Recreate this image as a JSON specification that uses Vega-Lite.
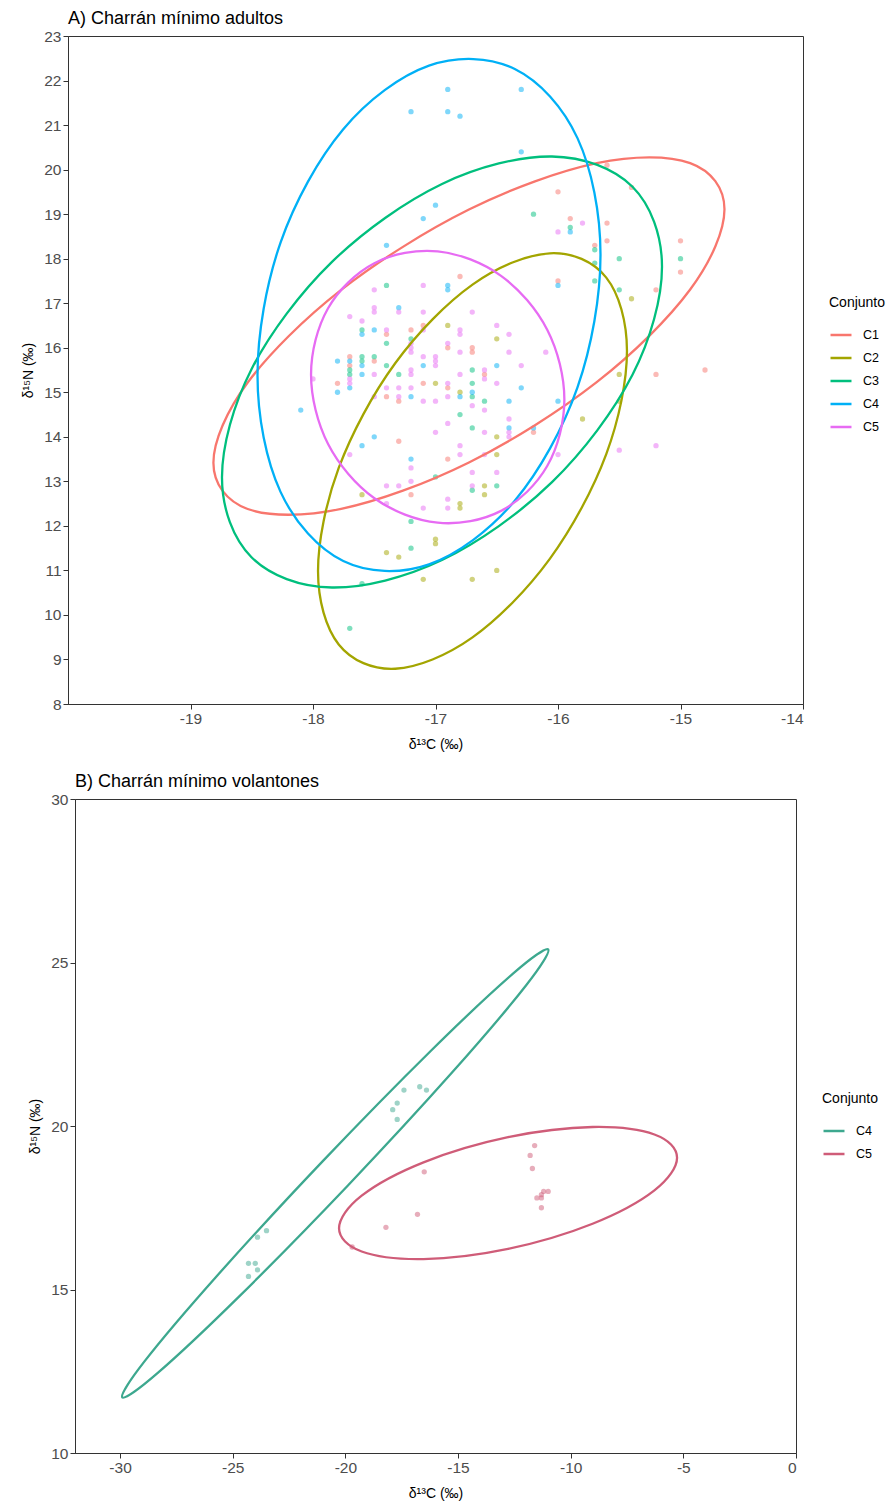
{
  "$schema": "https://vega.github.io/schema/vega-lite/v6.json",
  "padding": {"left": 21, "top": 9, "right": 5, "bottom": 5},
  "spacing": 95,
  "bounds": "flush",
  "center": true,
  "config": {
    "font": "Liberation Sans",
    "view": {"stroke": "#333333", "strokeWidth": 1},
    "axis": {"grid": false, "domainColor": "#333333", "domainWidth": 1, "tickColor": "#333333", "tickSize": 5, "labelFontSize": 15.5, "labelColor": "#4d4d4d", "labelFont": "Liberation Sans", "titleFont": "Liberation Sans", "titleFontSize": 14, "titleFontWeight": "normal", "titleColor": "#000000", "labelPadding": 2},
    "axisX": {"titlePadding": 11},
    "axisY": {"titlePadding": 8},
    "legend": {"titleFont": "Liberation Sans", "labelFont": "Liberation Sans", "titleFontSize": 14, "titleFontWeight": "normal", "titleColor": "#000000", "labelFontSize": 12.5, "labelColor": "#000000", "symbolType": "stroke", "symbolStrokeWidth": 2.5, "symbolSize": 440, "rowPadding": 4, "titlePadding": 13, "labelOffset": 10, "padding": 0, "symbolOpacity": 1},
    "title": {"fontSize": 18, "fontWeight": "normal", "color": "#000000", "anchor": "start", "frame": "group", "offset": 1, "font": "Liberation Sans"}
  },
  "datasets": {
    "ptsA": [
      {"Conjunto": "C1", "d13C": -16.8, "d15N": 17.6},
      {"Conjunto": "C1", "d13C": -17.2, "d15N": 16.4},
      {"Conjunto": "C1", "d13C": -17.4, "d15N": 16.3},
      {"Conjunto": "C1", "d13C": -17.1, "d15N": 16.5},
      {"Conjunto": "C1", "d13C": -17.5, "d15N": 15.7},
      {"Conjunto": "C1", "d13C": -17.7, "d15N": 15.8},
      {"Conjunto": "C1", "d13C": -17.7, "d15N": 15.6},
      {"Conjunto": "C1", "d13C": -16.9, "d15N": 16.0},
      {"Conjunto": "C1", "d13C": -16.7, "d15N": 16.0},
      {"Conjunto": "C1", "d13C": -16.6, "d15N": 15.4},
      {"Conjunto": "C1", "d13C": -16.7, "d15N": 15.9},
      {"Conjunto": "C1", "d13C": -17.8, "d15N": 15.2},
      {"Conjunto": "C1", "d13C": -17.1, "d15N": 15.2},
      {"Conjunto": "C1", "d13C": -16.9, "d15N": 15.1},
      {"Conjunto": "C1", "d13C": -17.4, "d15N": 14.9},
      {"Conjunto": "C1", "d13C": -17.3, "d15N": 14.8},
      {"Conjunto": "C1", "d13C": -17.3, "d15N": 13.9},
      {"Conjunto": "C1", "d13C": -16.9, "d15N": 13.5},
      {"Conjunto": "C1", "d13C": -17.2, "d15N": 12.7},
      {"Conjunto": "C1", "d13C": -15.6, "d15N": 20.1},
      {"Conjunto": "C1", "d13C": -15.4, "d15N": 19.6},
      {"Conjunto": "C1", "d13C": -16.0, "d15N": 19.5},
      {"Conjunto": "C1", "d13C": -15.9, "d15N": 18.9},
      {"Conjunto": "C1", "d13C": -15.6, "d15N": 18.8},
      {"Conjunto": "C1", "d13C": -15.6, "d15N": 18.4},
      {"Conjunto": "C1", "d13C": -15.7, "d15N": 18.3},
      {"Conjunto": "C1", "d13C": -15.0, "d15N": 18.4},
      {"Conjunto": "C1", "d13C": -15.0, "d15N": 17.7},
      {"Conjunto": "C1", "d13C": -16.0, "d15N": 17.5},
      {"Conjunto": "C1", "d13C": -15.2, "d15N": 17.3},
      {"Conjunto": "C1", "d13C": -15.2, "d15N": 15.4},
      {"Conjunto": "C1", "d13C": -14.8, "d15N": 15.5},
      {"Conjunto": "C1", "d13C": -16.2, "d15N": 14.1},
      {"Conjunto": "C2", "d13C": -16.9, "d15N": 16.5},
      {"Conjunto": "C2", "d13C": -16.5, "d15N": 16.2},
      {"Conjunto": "C2", "d13C": -17.0, "d15N": 15.2},
      {"Conjunto": "C2", "d13C": -16.8, "d15N": 15.0},
      {"Conjunto": "C2", "d13C": -16.5, "d15N": 14.0},
      {"Conjunto": "C2", "d13C": -16.5, "d15N": 13.6},
      {"Conjunto": "C2", "d13C": -16.6, "d15N": 12.9},
      {"Conjunto": "C2", "d13C": -17.6, "d15N": 12.7},
      {"Conjunto": "C2", "d13C": -16.6, "d15N": 12.7},
      {"Conjunto": "C2", "d13C": -16.8, "d15N": 12.5},
      {"Conjunto": "C2", "d13C": -16.8, "d15N": 12.4},
      {"Conjunto": "C2", "d13C": -17.0, "d15N": 11.7},
      {"Conjunto": "C2", "d13C": -17.0, "d15N": 11.6},
      {"Conjunto": "C2", "d13C": -17.4, "d15N": 11.4},
      {"Conjunto": "C2", "d13C": -17.3, "d15N": 11.3},
      {"Conjunto": "C2", "d13C": -16.5, "d15N": 11.0},
      {"Conjunto": "C2", "d13C": -17.1, "d15N": 10.8},
      {"Conjunto": "C2", "d13C": -16.7, "d15N": 10.8},
      {"Conjunto": "C2", "d13C": -15.4, "d15N": 17.1},
      {"Conjunto": "C2", "d13C": -15.5, "d15N": 15.4},
      {"Conjunto": "C2", "d13C": -15.5, "d15N": 14.8},
      {"Conjunto": "C2", "d13C": -15.8, "d15N": 14.4},
      {"Conjunto": "C3", "d13C": -17.4, "d15N": 17.4},
      {"Conjunto": "C3", "d13C": -17.6, "d15N": 16.4},
      {"Conjunto": "C3", "d13C": -17.4, "d15N": 16.1},
      {"Conjunto": "C3", "d13C": -17.2, "d15N": 16.2},
      {"Conjunto": "C3", "d13C": -17.7, "d15N": 15.5},
      {"Conjunto": "C3", "d13C": -17.7, "d15N": 15.4},
      {"Conjunto": "C3", "d13C": -17.6, "d15N": 15.8},
      {"Conjunto": "C3", "d13C": -17.6, "d15N": 15.7},
      {"Conjunto": "C3", "d13C": -17.5, "d15N": 15.8},
      {"Conjunto": "C3", "d13C": -17.4, "d15N": 15.6},
      {"Conjunto": "C3", "d13C": -16.7, "d15N": 15.5},
      {"Conjunto": "C3", "d13C": -17.3, "d15N": 15.4},
      {"Conjunto": "C3", "d13C": -16.7, "d15N": 15.2},
      {"Conjunto": "C3", "d13C": -16.7, "d15N": 14.9},
      {"Conjunto": "C3", "d13C": -16.6, "d15N": 14.8},
      {"Conjunto": "C3", "d13C": -16.8, "d15N": 14.5},
      {"Conjunto": "C3", "d13C": -16.7, "d15N": 14.2},
      {"Conjunto": "C3", "d13C": -17.0, "d15N": 13.1},
      {"Conjunto": "C3", "d13C": -16.5, "d15N": 12.9},
      {"Conjunto": "C3", "d13C": -16.7, "d15N": 12.8},
      {"Conjunto": "C3", "d13C": -17.2, "d15N": 12.1},
      {"Conjunto": "C3", "d13C": -17.2, "d15N": 11.5},
      {"Conjunto": "C3", "d13C": -17.6, "d15N": 10.7},
      {"Conjunto": "C3", "d13C": -17.7, "d15N": 9.7},
      {"Conjunto": "C3", "d13C": -16.2, "d15N": 19.0},
      {"Conjunto": "C3", "d13C": -15.9, "d15N": 18.7},
      {"Conjunto": "C3", "d13C": -15.7, "d15N": 18.2},
      {"Conjunto": "C3", "d13C": -15.5, "d15N": 18.0},
      {"Conjunto": "C3", "d13C": -15.0, "d15N": 18.0},
      {"Conjunto": "C3", "d13C": -15.7, "d15N": 17.9},
      {"Conjunto": "C3", "d13C": -15.7, "d15N": 17.5},
      {"Conjunto": "C3", "d13C": -15.5, "d15N": 17.3},
      {"Conjunto": "C4", "d13C": -16.9, "d15N": 21.8},
      {"Conjunto": "C4", "d13C": -17.2, "d15N": 21.3},
      {"Conjunto": "C4", "d13C": -16.9, "d15N": 21.3},
      {"Conjunto": "C4", "d13C": -16.8, "d15N": 21.2},
      {"Conjunto": "C4", "d13C": -17.0, "d15N": 19.2},
      {"Conjunto": "C4", "d13C": -17.1, "d15N": 18.9},
      {"Conjunto": "C4", "d13C": -17.4, "d15N": 18.3},
      {"Conjunto": "C4", "d13C": -16.9, "d15N": 17.4},
      {"Conjunto": "C4", "d13C": -16.9, "d15N": 17.3},
      {"Conjunto": "C4", "d13C": -17.3, "d15N": 16.9},
      {"Conjunto": "C4", "d13C": -17.5, "d15N": 16.4},
      {"Conjunto": "C4", "d13C": -17.6, "d15N": 16.3},
      {"Conjunto": "C4", "d13C": -17.8, "d15N": 15.7},
      {"Conjunto": "C4", "d13C": -17.7, "d15N": 15.7},
      {"Conjunto": "C4", "d13C": -17.6, "d15N": 15.6},
      {"Conjunto": "C4", "d13C": -17.1, "d15N": 15.6},
      {"Conjunto": "C4", "d13C": -16.5, "d15N": 15.6},
      {"Conjunto": "C4", "d13C": -17.6, "d15N": 15.4},
      {"Conjunto": "C4", "d13C": -17.8, "d15N": 15.0},
      {"Conjunto": "C4", "d13C": -17.7, "d15N": 15.1},
      {"Conjunto": "C4", "d13C": -16.7, "d15N": 15.0},
      {"Conjunto": "C4", "d13C": -17.2, "d15N": 14.9},
      {"Conjunto": "C4", "d13C": -16.8, "d15N": 14.9},
      {"Conjunto": "C4", "d13C": -18.1, "d15N": 14.6},
      {"Conjunto": "C4", "d13C": -17.5, "d15N": 14.0},
      {"Conjunto": "C4", "d13C": -17.6, "d15N": 13.8},
      {"Conjunto": "C4", "d13C": -17.2, "d15N": 13.5},
      {"Conjunto": "C4", "d13C": -16.3, "d15N": 21.8},
      {"Conjunto": "C4", "d13C": -16.3, "d15N": 20.4},
      {"Conjunto": "C4", "d13C": -15.9, "d15N": 18.6},
      {"Conjunto": "C4", "d13C": -16.0, "d15N": 17.4},
      {"Conjunto": "C4", "d13C": -16.3, "d15N": 15.1},
      {"Conjunto": "C4", "d13C": -16.4, "d15N": 14.8},
      {"Conjunto": "C4", "d13C": -16.0, "d15N": 14.8},
      {"Conjunto": "C4", "d13C": -16.4, "d15N": 14.2},
      {"Conjunto": "C4", "d13C": -16.2, "d15N": 14.2},
      {"Conjunto": "C5", "d13C": -17.5, "d15N": 17.3},
      {"Conjunto": "C5", "d13C": -17.1, "d15N": 17.4},
      {"Conjunto": "C5", "d13C": -17.5, "d15N": 16.9},
      {"Conjunto": "C5", "d13C": -17.5, "d15N": 16.8},
      {"Conjunto": "C5", "d13C": -17.7, "d15N": 16.7},
      {"Conjunto": "C5", "d13C": -17.6, "d15N": 16.6},
      {"Conjunto": "C5", "d13C": -17.3, "d15N": 16.8},
      {"Conjunto": "C5", "d13C": -17.1, "d15N": 16.8},
      {"Conjunto": "C5", "d13C": -16.7, "d15N": 16.8},
      {"Conjunto": "C5", "d13C": -17.4, "d15N": 16.4},
      {"Conjunto": "C5", "d13C": -17.1, "d15N": 16.4},
      {"Conjunto": "C5", "d13C": -16.8, "d15N": 16.4},
      {"Conjunto": "C5", "d13C": -16.8, "d15N": 16.3},
      {"Conjunto": "C5", "d13C": -16.5, "d15N": 16.5},
      {"Conjunto": "C5", "d13C": -17.2, "d15N": 16.1},
      {"Conjunto": "C5", "d13C": -17.2, "d15N": 16.0},
      {"Conjunto": "C5", "d13C": -17.2, "d15N": 15.9},
      {"Conjunto": "C5", "d13C": -16.9, "d15N": 16.1},
      {"Conjunto": "C5", "d13C": -16.8, "d15N": 15.9},
      {"Conjunto": "C5", "d13C": -17.1, "d15N": 15.8},
      {"Conjunto": "C5", "d13C": -17.0, "d15N": 15.8},
      {"Conjunto": "C5", "d13C": -17.0, "d15N": 15.7},
      {"Conjunto": "C5", "d13C": -17.0, "d15N": 15.6},
      {"Conjunto": "C5", "d13C": -17.5, "d15N": 15.4},
      {"Conjunto": "C5", "d13C": -17.2, "d15N": 15.5},
      {"Conjunto": "C5", "d13C": -17.2, "d15N": 15.4},
      {"Conjunto": "C5", "d13C": -16.8, "d15N": 15.4},
      {"Conjunto": "C5", "d13C": -16.6, "d15N": 15.5},
      {"Conjunto": "C5", "d13C": -17.7, "d15N": 15.3},
      {"Conjunto": "C5", "d13C": -17.7, "d15N": 15.2},
      {"Conjunto": "C5", "d13C": -16.9, "d15N": 15.2},
      {"Conjunto": "C5", "d13C": -16.5, "d15N": 15.2},
      {"Conjunto": "C5", "d13C": -17.4, "d15N": 15.1},
      {"Conjunto": "C5", "d13C": -17.3, "d15N": 15.1},
      {"Conjunto": "C5", "d13C": -17.2, "d15N": 15.1},
      {"Conjunto": "C5", "d13C": -16.6, "d15N": 15.3},
      {"Conjunto": "C5", "d13C": -17.5, "d15N": 14.9},
      {"Conjunto": "C5", "d13C": -17.3, "d15N": 14.9},
      {"Conjunto": "C5", "d13C": -16.9, "d15N": 14.9},
      {"Conjunto": "C5", "d13C": -17.1, "d15N": 14.8},
      {"Conjunto": "C5", "d13C": -17.0, "d15N": 14.8},
      {"Conjunto": "C5", "d13C": -16.7, "d15N": 14.7},
      {"Conjunto": "C5", "d13C": -16.6, "d15N": 14.6},
      {"Conjunto": "C5", "d13C": -16.9, "d15N": 14.3},
      {"Conjunto": "C5", "d13C": -17.0, "d15N": 14.1},
      {"Conjunto": "C5", "d13C": -16.6, "d15N": 14.1},
      {"Conjunto": "C5", "d13C": -16.8, "d15N": 13.8},
      {"Conjunto": "C5", "d13C": -17.7, "d15N": 13.6},
      {"Conjunto": "C5", "d13C": -16.8, "d15N": 13.6},
      {"Conjunto": "C5", "d13C": -16.6, "d15N": 13.6},
      {"Conjunto": "C5", "d13C": -17.2, "d15N": 13.3},
      {"Conjunto": "C5", "d13C": -16.7, "d15N": 13.2},
      {"Conjunto": "C5", "d13C": -16.5, "d15N": 13.2},
      {"Conjunto": "C5", "d13C": -17.2, "d15N": 13.0},
      {"Conjunto": "C5", "d13C": -17.4, "d15N": 12.9},
      {"Conjunto": "C5", "d13C": -17.3, "d15N": 12.9},
      {"Conjunto": "C5", "d13C": -16.7, "d15N": 12.9},
      {"Conjunto": "C5", "d13C": -17.4, "d15N": 12.5},
      {"Conjunto": "C5", "d13C": -17.1, "d15N": 12.4},
      {"Conjunto": "C5", "d13C": -16.9, "d15N": 12.6},
      {"Conjunto": "C5", "d13C": -16.9, "d15N": 12.4},
      {"Conjunto": "C5", "d13C": -15.8, "d15N": 18.8},
      {"Conjunto": "C5", "d13C": -16.0, "d15N": 18.6},
      {"Conjunto": "C5", "d13C": -16.4, "d15N": 16.3},
      {"Conjunto": "C5", "d13C": -16.4, "d15N": 15.9},
      {"Conjunto": "C5", "d13C": -16.1, "d15N": 15.9},
      {"Conjunto": "C5", "d13C": -16.3, "d15N": 15.6},
      {"Conjunto": "C5", "d13C": -16.4, "d15N": 14.4},
      {"Conjunto": "C5", "d13C": -16.4, "d15N": 14.1},
      {"Conjunto": "C5", "d13C": -16.4, "d15N": 14.0},
      {"Conjunto": "C5", "d13C": -16.0, "d15N": 13.6},
      {"Conjunto": "C5", "d13C": -15.5, "d15N": 13.7},
      {"Conjunto": "C5", "d13C": -15.2, "d15N": 13.8},
      {"Conjunto": "C5", "d13C": -18.0, "d15N": 15.3}
    ],
    "ellA": [
      {"Conjunto": "C1", "i": 0, "d13C": -14.641, "d15N": 19.108},
      {"Conjunto": "C1", "i": 1, "d13C": -14.921, "d15N": 17.307},
      {"Conjunto": "C1", "i": 2, "d13C": -15.684, "d15N": 15.227},
      {"Conjunto": "C1", "i": 3, "d13C": -16.727, "d15N": 13.424},
      {"Conjunto": "C1", "i": 4, "d13C": -17.77, "d15N": 12.381},
      {"Conjunto": "C1", "i": 5, "d13C": -18.533, "d15N": 12.379},
      {"Conjunto": "C1", "i": 6, "d13C": -18.813, "d15N": 13.418},
      {"Conjunto": "C1", "i": 7, "d13C": -18.533, "d15N": 15.219},
      {"Conjunto": "C1", "i": 8, "d13C": -17.77, "d15N": 17.299},
      {"Conjunto": "C1", "i": 9, "d13C": -16.727, "d15N": 19.102},
      {"Conjunto": "C1", "i": 10, "d13C": -15.684, "d15N": 20.145},
      {"Conjunto": "C1", "i": 11, "d13C": -14.921, "d15N": 20.147},
      {"Conjunto": "C2", "i": 0, "d13C": -15.437, "d15N": 15.924},
      {"Conjunto": "C2", "i": 1, "d13C": -15.606, "d15N": 13.612},
      {"Conjunto": "C2", "i": 2, "d13C": -16.067, "d15N": 11.26},
      {"Conjunto": "C2", "i": 3, "d13C": -16.698, "d15N": 9.495},
      {"Conjunto": "C2", "i": 4, "d13C": -17.329, "d15N": 8.792},
      {"Conjunto": "C2", "i": 5, "d13C": -17.79, "d15N": 9.338},
      {"Conjunto": "C2", "i": 6, "d13C": -17.959, "d15N": 10.988},
      {"Conjunto": "C2", "i": 7, "d13C": -17.79, "d15N": 13.3},
      {"Conjunto": "C2", "i": 8, "d13C": -17.329, "d15N": 15.652},
      {"Conjunto": "C2", "i": 9, "d13C": -16.698, "d15N": 17.417},
      {"Conjunto": "C2", "i": 10, "d13C": -16.067, "d15N": 18.12},
      {"Conjunto": "C2", "i": 11, "d13C": -15.606, "d15N": 17.574},
      {"Conjunto": "C3", "i": 0, "d13C": -15.151, "d15N": 17.82},
      {"Conjunto": "C3", "i": 1, "d13C": -15.392, "d15N": 15.392},
      {"Conjunto": "C3", "i": 2, "d13C": -16.049, "d15N": 12.982},
      {"Conjunto": "C3", "i": 3, "d13C": -16.947, "d15N": 11.233},
      {"Conjunto": "C3", "i": 4, "d13C": -17.845, "d15N": 10.616},
      {"Conjunto": "C3", "i": 5, "d13C": -18.502, "d15N": 11.296},
      {"Conjunto": "C3", "i": 6, "d13C": -18.743, "d15N": 13.09},
      {"Conjunto": "C3", "i": 7, "d13C": -18.502, "d15N": 15.518},
      {"Conjunto": "C3", "i": 8, "d13C": -17.845, "d15N": 17.928},
      {"Conjunto": "C3", "i": 9, "d13C": -16.947, "d15N": 19.677},
      {"Conjunto": "C3", "i": 10, "d13C": -16.049, "d15N": 20.294},
      {"Conjunto": "C3", "i": 11, "d13C": -15.392, "d15N": 19.614},
      {"Conjunto": "C4", "i": 0, "d13C": -15.653, "d15N": 18.089},
      {"Conjunto": "C4", "i": 1, "d13C": -15.841, "d15N": 15.109},
      {"Conjunto": "C4", "i": 2, "d13C": -16.353, "d15N": 12.564},
      {"Conjunto": "C4", "i": 3, "d13C": -17.053, "d15N": 11.137},
      {"Conjunto": "C4", "i": 4, "d13C": -17.753, "d15N": 11.21},
      {"Conjunto": "C4", "i": 5, "d13C": -18.265, "d15N": 12.763},
      {"Conjunto": "C4", "i": 6, "d13C": -18.453, "d15N": 15.381},
      {"Conjunto": "C4", "i": 7, "d13C": -18.265, "d15N": 18.361},
      {"Conjunto": "C4", "i": 8, "d13C": -17.753, "d15N": 20.906},
      {"Conjunto": "C4", "i": 9, "d13C": -17.053, "d15N": 22.333},
      {"Conjunto": "C4", "i": 10, "d13C": -16.353, "d15N": 22.26},
      {"Conjunto": "C4", "i": 11, "d13C": -15.841, "d15N": 20.707},
      {"Conjunto": "C5", "i": 0, "d13C": -15.948, "d15N": 14.835},
      {"Conjunto": "C5", "i": 1, "d13C": -16.087, "d15N": 13.349},
      {"Conjunto": "C5", "i": 2, "d13C": -16.465, "d15N": 12.337},
      {"Conjunto": "C5", "i": 3, "d13C": -16.982, "d15N": 12.071},
      {"Conjunto": "C5", "i": 4, "d13C": -17.499, "d15N": 12.621},
      {"Conjunto": "C5", "i": 5, "d13C": -17.877, "d15N": 13.839},
      {"Conjunto": "C5", "i": 6, "d13C": -18.016, "d15N": 15.401},
      {"Conjunto": "C5", "i": 7, "d13C": -17.877, "d15N": 16.887},
      {"Conjunto": "C5", "i": 8, "d13C": -17.499, "d15N": 17.899},
      {"Conjunto": "C5", "i": 9, "d13C": -16.982, "d15N": 18.165},
      {"Conjunto": "C5", "i": 10, "d13C": -16.465, "d15N": 17.615},
      {"Conjunto": "C5", "i": 11, "d13C": -16.087, "d15N": 16.397}
    ],
    "ptsB": [
      {"Conjunto": "C4", "d13C": -17.4, "d15N": 21.1},
      {"Conjunto": "C4", "d13C": -16.7, "d15N": 21.2},
      {"Conjunto": "C4", "d13C": -16.4, "d15N": 21.1},
      {"Conjunto": "C4", "d13C": -17.7, "d15N": 20.7},
      {"Conjunto": "C4", "d13C": -17.9, "d15N": 20.5},
      {"Conjunto": "C4", "d13C": -17.7, "d15N": 20.2},
      {"Conjunto": "C4", "d13C": -23.5, "d15N": 16.8},
      {"Conjunto": "C4", "d13C": -23.9, "d15N": 16.6},
      {"Conjunto": "C4", "d13C": -24.3, "d15N": 15.8},
      {"Conjunto": "C4", "d13C": -24.0, "d15N": 15.8},
      {"Conjunto": "C4", "d13C": -23.9, "d15N": 15.6},
      {"Conjunto": "C4", "d13C": -24.3, "d15N": 15.4},
      {"Conjunto": "C5", "d13C": -11.6, "d15N": 19.4},
      {"Conjunto": "C5", "d13C": -11.8, "d15N": 19.1},
      {"Conjunto": "C5", "d13C": -11.7, "d15N": 18.7},
      {"Conjunto": "C5", "d13C": -16.5, "d15N": 18.6},
      {"Conjunto": "C5", "d13C": -11.2, "d15N": 18.0},
      {"Conjunto": "C5", "d13C": -11.0, "d15N": 18.0},
      {"Conjunto": "C5", "d13C": -11.3, "d15N": 17.9},
      {"Conjunto": "C5", "d13C": -11.5, "d15N": 17.8},
      {"Conjunto": "C5", "d13C": -11.3, "d15N": 17.8},
      {"Conjunto": "C5", "d13C": -11.3, "d15N": 17.5},
      {"Conjunto": "C5", "d13C": -16.8, "d15N": 17.3},
      {"Conjunto": "C5", "d13C": -18.2, "d15N": 16.9},
      {"Conjunto": "C5", "d13C": -19.7, "d15N": 16.3}
    ],
    "ellB": [
      {"Conjunto": "C4", "i": 0, "d13C": -11.0, "d15N": 25.4},
      {"Conjunto": "C4", "i": 1, "d13C": -11.984, "d15N": 24.298},
      {"Conjunto": "C4", "i": 2, "d13C": -15.237, "d15N": 21.656},
      {"Conjunto": "C4", "i": 3, "d13C": -19.887, "d15N": 18.182},
      {"Conjunto": "C4", "i": 4, "d13C": -24.687, "d15N": 14.806},
      {"Conjunto": "C4", "i": 5, "d13C": -28.352, "d15N": 12.434},
      {"Conjunto": "C4", "i": 6, "d13C": -29.9, "d15N": 11.7},
      {"Conjunto": "C4", "i": 7, "d13C": -28.916, "d15N": 12.802},
      {"Conjunto": "C4", "i": 8, "d13C": -25.663, "d15N": 15.444},
      {"Conjunto": "C4", "i": 9, "d13C": -21.013, "d15N": 18.918},
      {"Conjunto": "C4", "i": 10, "d13C": -16.213, "d15N": 22.294},
      {"Conjunto": "C4", "i": 11, "d13C": -12.548, "d15N": 24.666},
      {"Conjunto": "C5", "i": 0, "d13C": -5.279, "d15N": 19.03},
      {"Conjunto": "C5", "i": 1, "d13C": -6.284, "d15N": 18.031},
      {"Conjunto": "C5", "i": 2, "d13C": -9.029, "d15N": 17.011},
      {"Conjunto": "C5", "i": 3, "d13C": -12.78, "d15N": 16.242},
      {"Conjunto": "C5", "i": 4, "d13C": -16.531, "d15N": 15.931},
      {"Conjunto": "C5", "i": 5, "d13C": -19.276, "d15N": 16.161},
      {"Conjunto": "C5", "i": 6, "d13C": -20.281, "d15N": 16.87},
      {"Conjunto": "C5", "i": 7, "d13C": -19.276, "d15N": 17.869},
      {"Conjunto": "C5", "i": 8, "d13C": -16.531, "d15N": 18.889},
      {"Conjunto": "C5", "i": 9, "d13C": -12.78, "d15N": 19.658},
      {"Conjunto": "C5", "i": 10, "d13C": -9.029, "d15N": 19.969},
      {"Conjunto": "C5", "i": 11, "d13C": -6.284, "d15N": 19.739}
    ]
  },
  "vconcat": [
    {
      "title": {"text": "A) Charrán mínimo adultos"},
      "width": 735,
      "height": 668,
      "encoding": {
        "x": {"field": "d13C", "type": "quantitative", "scale": {"domain": [-20, -14], "nice": false, "zero": false}, "axis": {"values": [-19, -18, -17, -16, -15, -14], "labelExpr": "datum.value + ''", "title": "δ¹³C (‰)"}},
        "y": {"field": "d15N", "type": "quantitative", "scale": {"domain": [8, 23], "nice": false, "zero": false}, "axis": {"values": [8, 9, 10, 11, 12, 13, 14, 15, 16, 17, 18, 19, 20, 21, 22, 23], "labelExpr": "datum.value + ''", "title": "δ¹⁵N (‰)"}},
        "color": {"field": "Conjunto", "type": "nominal", "scale": {"domain": ["C1", "C2", "C3", "C4", "C5"], "range": ["#F8766D", "#A3A500", "#00BF7D", "#00B0F6", "#E76BF3"]}, "legend": {"title": "Conjunto", "orient": "none", "legendX": 761, "legendY": 260}}
      },
      "layer": [
        {"data": {"name": "ptsA"}, "mark": {"type": "point", "filled": true, "size": 28, "opacity": 0.5}},
        {"data": {"name": "ellA"}, "mark": {"type": "line", "interpolate": "cardinal-closed", "strokeWidth": 2.3}, "encoding": {"order": {"field": "i", "type": "quantitative"}}}
      ]
    },
    {
      "title": {"text": "B) Charrán mínimo volantones"},
      "width": 721,
      "height": 654,
      "encoding": {
        "x": {"field": "d13C", "type": "quantitative", "scale": {"domain": [-32, 0], "nice": false, "zero": false}, "axis": {"values": [-30, -25, -20, -15, -10, -5, 0], "labelExpr": "datum.value + ''", "title": "δ¹³C (‰)"}},
        "y": {"field": "d15N", "type": "quantitative", "scale": {"domain": [10, 30], "nice": false, "zero": false}, "axis": {"values": [10, 15, 20, 25, 30], "labelExpr": "datum.value + ''", "title": "δ¹⁵N (‰)", "titlePadding": 8}},
        "color": {"field": "Conjunto", "type": "nominal", "scale": {"domain": ["C4", "C5"], "range": ["#3DA88F", "#CF5C78"]}, "legend": {"title": "Conjunto", "orient": "none", "legendX": 747, "legendY": 293}}
      },
      "layer": [
        {"data": {"name": "ptsB"}, "mark": {"type": "point", "filled": true, "size": 28, "opacity": 0.5}},
        {"data": {"name": "ellB"}, "mark": {"type": "line", "interpolate": "cardinal-closed", "strokeWidth": 2.3}, "encoding": {"order": {"field": "i", "type": "quantitative"}}}
      ]
    }
  ],
  "resolve": {"scale": {"color": "independent", "x": "independent", "y": "independent"}, "legend": {"color": "independent"}}
}
